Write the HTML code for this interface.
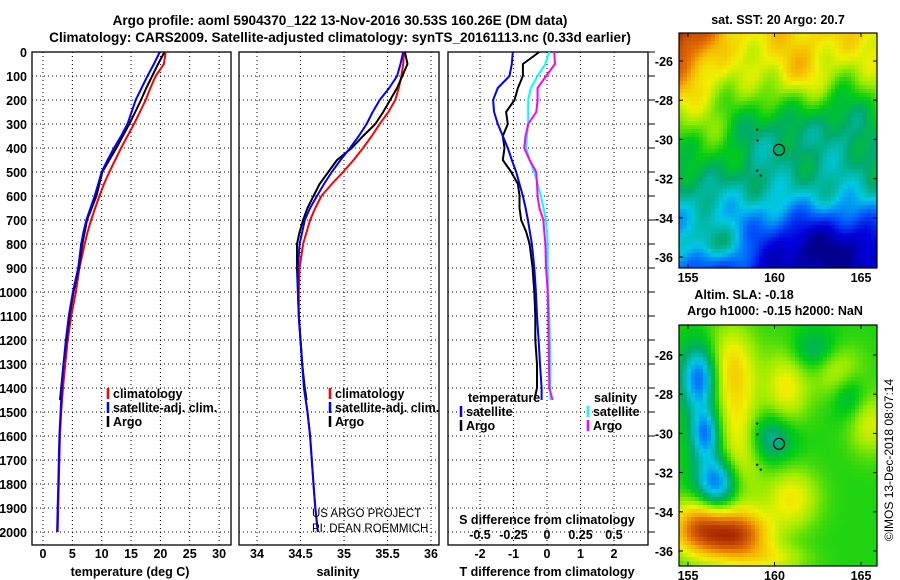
<!DOCTYPE html>
<html><head><meta charset="utf-8"><style>
body{margin:0;background:#fff;}
svg{display:block;font-family:"Liberation Sans",sans-serif;}
.b{font-weight:bold;font-size:12.5px;fill:#000;}
.t{font-weight:bold;font-size:13.6px;fill:#000;}
</style></head><body>
<svg id="fig" width="900" height="580" viewBox="0 0 900 580">
<text class="t" x="340" y="25" text-anchor="middle">Argo profile: aoml 5904370_122 13-Nov-2016 30.53S 160.26E (DM data)</text>
<text class="t" x="340" y="42" text-anchor="middle">Climatology: CARS2009. Satellite-adjusted climatology: synTS_20161113.nc (0.33d earlier)</text>
<g id="p1"></g>
<g id="p2"></g>
<g id="p3"></g>
<g id="m1"></g>
<g id="m2"></g>
<text x="893" y="460" font-size="12" transform="rotate(-90 893 460)" text-anchor="middle">©IMOS 13-Dec-2018 08:07:14</text>
</svg>
<script>
// ---- data ----
const depths=[0,50,100,150,200,250,300,350,400,450,500,550,600,650,700,750,800,900,1000,1100,1200,1300,1400,1450];
const depthsClim=[0,50,100,150,200,250,300,350,400,450,500,550,600,650,700,750,800,900,1000,1100,1200,1300,1400,1500,1600,1700,1800,1900,2000];
const tempArgo=[20.7,19.6,18.6,17.6,16.7,15.7,14.7,13.6,12.5,11.3,10.1,9.6,9.1,8.3,7.5,7.1,6.7,6.1,5.2,4.5,4.0,3.5,3.1,2.9];
const tempSat=[19.9,18.9,17.8,16.8,15.8,15.1,14.4,13.3,12.1,11.0,10.0,9.4,8.8,8.1,7.4,6.9,6.5,6.0,5.1,4.4,3.9,3.5,3.2,3.0,2.8,2.7,2.6,2.5,2.4];
const tempClim=[20.9,20.6,19.2,18.3,17.5,16.5,15.5,14.4,13.3,12.3,11.3,10.4,9.6,8.9,8.2,7.6,7.1,6.2,5.6,4.8,4.2,3.8,3.4,3.1,2.9,2.8,2.7,2.6,2.5];
const salArgo=[35.70,35.73,35.67,35.61,35.53,35.45,35.36,35.22,35.09,34.92,34.82,34.72,34.65,34.58,34.53,34.49,34.46,34.46,34.47,34.48,34.50,34.52,34.55,34.57];
const salSat=[35.68,35.65,35.61,35.52,35.41,35.33,35.26,35.17,35.07,34.96,34.86,34.77,34.69,34.61,34.55,34.52,34.49,34.47,34.47,34.48,34.50,34.52,34.54,34.58,34.61,34.63,34.65,34.67,34.70];
const salClim=[35.69,35.68,35.66,35.63,35.59,35.51,35.41,35.32,35.22,35.11,34.99,34.86,34.74,34.67,34.61,34.57,34.53,34.49,34.48,34.48,34.50,34.52,34.54,34.58,34.61,34.63,34.65,34.67,34.70];
const dT_Sat=[-1.02,-1.05,-1.12,-1.47,-1.61,-1.58,-1.47,-1.32,-1.17,-1.05,-0.92,-0.82,-0.72,-0.64,-0.57,-0.51,-0.45,-0.38,-0.33,-0.30,-0.25,-0.21,-0.16,-0.16];
const dT_Argo=[-0.23,-0.72,-0.72,-0.87,-0.97,-1.22,-1.17,-1.32,-1.27,-1.32,-1.07,-0.87,-0.82,-0.82,-0.77,-0.62,-0.52,-0.43,-0.38,-0.35,-0.35,-0.30,-0.30,-0.38];
const dS_Sat=[0.017,-0.012,-0.07,-0.12,-0.14,-0.14,-0.14,-0.15,-0.155,-0.13,-0.095,-0.07,-0.045,-0.025,-0.008,0.0,0.005,0.005,0.01,0.017,0.022,0.025,0.025,0.025];
const dS_Argo=[0.054,0.06,-0.007,-0.07,-0.07,-0.08,-0.14,-0.16,-0.17,-0.13,-0.08,-0.075,-0.07,-0.057,-0.027,-0.02,-0.012,-0.007,0.005,0.01,0.012,0.015,0.017,0.042];
const depthTicks=[0,100,200,300,400,500,600,700,800,900,1000,1100,1200,1300,1400,1500,1600,1700,1800,1900,2000];
const tempTicks=[0,5,10,15,20,25,30];
const salTicks=[34,34.5,35,35.5,36];
const dTTicks=[-2,-1,0,1,2];
const dSTicks=[-0.5,-0.25,0,0.25,0.5];
const latTicks=[-26,-28,-30,-32,-34,-36];
const lonTicks=[155,160,165];

const NS="http://www.w3.org/2000/svg";
function mk(tag,attrs,parent,txt){const e=document.createElementNS(NS,tag);for(const k in attrs)e.setAttribute(k,attrs[k]);if(txt!==undefined)e.textContent=txt;parent.appendChild(e);return e;}
const Y=d=>52+d*0.24;
const PB=545;
function panel(g,x0,x1,xs,ticks,labels,name){
  depthTicks.forEach(d=>{const l=mk('line',{x1:x0,x2:x1,y1:Y(d),y2:Y(d),stroke:'#000','stroke-width':1,'stroke-dasharray':'1,3'},g);
    });
  ticks.forEach(v=>{const l=mk('line',{x1:xs(v),x2:xs(v),y1:52,y2:PB,stroke:'#000','stroke-width':1,'stroke-dasharray':'1,3'},g);
    });
  const r=mk('rect',{x:x0,y:52,width:x1-x0,height:PB-52,fill:'none',stroke:'#000','stroke-width':1.3},g);
  
  if(labels){ticks.forEach((v,i)=>{const t=mk('text',{x:xs(v),y:558,'text-anchor':'middle',class:'b'},g,labels[i]);
    });}
}
function line(g,xs,vals,ds,color,name,w){
  const pts=vals.map((v,i)=>xs(v).toFixed(1)+','+Y(ds[i]).toFixed(1)).join(' ');
  const p=mk('polyline',{points:pts,fill:'none',stroke:color,'stroke-width':w||2,'stroke-linejoin':'round'},g);
  
}
function legend(g,x,y,color,label,name){
  const l=mk('line',{x1:x,x2:x,y1:y-10,y2:y+1,stroke:color,'stroke-width':2.5},g);
  
  const t=mk('text',{x:x+5,y:y,class:'b'},g,label);
  
}
const g1=document.getElementById('p1');
const xT=v=>43+v*5.87;
panel(g1,32,231,xT,tempTicks,tempTicks.map(String),'temperature-axis');
depthTicks.forEach(d=>{const t=mk('text',{x:27,y:Y(d)+5,'text-anchor':'end',class:'b'},g1,String(d));
  });
line(g1,xT,tempClim,depthsClim,'#ff0000','temp-climatology-line');
line(g1,xT,tempArgo,depths,'#000','temp-argo-line');
line(g1,xT,tempSat,depthsClim,'#0000ff','temp-satellite-line');
legend(g1,108,398,'#ff0000','climatology','legend-climatology');
legend(g1,108,412,'#0000ff','satellite-adj. clim.','legend-satellite');
legend(g1,108,426,'#000','Argo','legend-argo');
mk('text',{x:130,y:576,'text-anchor':'middle',class:'b'},g1,'temperature (deg C)');
const g2=document.getElementById('p2');
const xS=v=>257+(v-34)*87;
panel(g2,239,439,xS,salTicks,salTicks.map(String),'salinity-axis');
line(g2,xS,salClim,depthsClim,'#ff0000','sal-climatology-line');
line(g2,xS,salArgo,depths,'#000','sal-argo-line');
line(g2,xS,salSat,depthsClim,'#0000ff','sal-satellite-line');
legend(g2,330,398,'#ff0000','climatology','legend-climatology-2');
legend(g2,330,412,'#0000ff','satellite-adj. clim.','legend-satellite-2');
legend(g2,330,426,'#000','Argo','legend-argo-2');
mk('text',{x:338,y:576,'text-anchor':'middle',class:'b'},g2,'salinity');
mk('text',{x:312,y:517,'font-size':'11.5'},g2,'US ARGO PROJECT');
mk('text',{x:312,y:532,'font-size':'11.5'},g2,'PI: DEAN ROEMMICH');
const g3=document.getElementById('p3');
const xD=v=>547+v*33.5;
const xDS=v=>547+v*134;
panel(g3,448,648,xD,dTTicks,dTTicks.map(String),'t-difference-axis');
line(g3,xDS,dS_Sat,depths,'#00ffff','s-diff-satellite-line');
line(g3,xDS,dS_Argo,depths,'#ff00ff','s-diff-argo-line');
line(g3,xD,dT_Argo,depths,'#000','t-diff-argo-line');
line(g3,xD,dT_Sat,depths,'#0000ff','t-diff-satellite-line');
mk('text',{x:547,y:524,'text-anchor':'middle',class:'b'},g3,'S difference from climatology');
dSTicks.forEach(v=>{const t=mk('text',{x:xDS(v),y:539,'text-anchor':'middle',class:'b'},g3,String(v));
  });
mk('text',{x:547,y:576,'text-anchor':'middle',class:'b'},g3,'T difference from climatology');
mk('text',{x:468,y:402,class:'b'},g3,'temperature');
legend(g3,461,416,'#0000ff','satellite','legend-t-satellite');
legend(g3,461,430,'#000','Argo','legend-t-argo');
mk('text',{x:594,y:402,class:'b'},g3,'salinity');
legend(g3,588,416,'#00ffff','satellite','legend-s-satellite');
legend(g3,588,430,'#ff00ff','Argo','legend-s-argo');
depthTicks.forEach(d=>{mk('line',{x1:648,x2:655,y1:Y(d),y2:Y(d),stroke:'#000'},g3);});

// ---- maps ----
const stops=[[0,[0,0,140]],[0.12,[0,0,220]],[0.24,[0,100,255]],[0.33,[0,200,230]],[0.42,[0,170,110]],[0.5,[0,205,20]],[0.6,[150,235,0]],[0.68,[240,240,0]],[0.78,[245,180,0]],[0.87,[225,110,0]],[1,[170,40,0]]];
function cmap(v){v=Math.max(0,Math.min(1,v));for(let i=1;i<stops.length;i++){if(v<=stops[i][0]){const a=stops[i-1],b=stops[i],f=(v-a[0])/(b[0]-a[0]);return 'rgb('+a[1].map((c,k)=>Math.round(c+(b[1][k]-c)*f)).join(',')+')';}}return 'rgb(170,40,0)';}
const G=(lo,la,x,y,sx,sy)=>Math.exp(-((lo-x)*(lo-x)/(2*sx*sx)+(la-y)*(la-y)/(2*sy*sy)));
function sst(lo,la){const t=(la+36.5)/11.5;let v=0.22+0.48*t;
 v+=0.25*Math.max(0,(157.5-lo)/2.5)*Math.max(0,t-0.55)*2.2;
 v-=0.25*G(lo,la,163,-35.6,3,1.3);
 v+=0.14*G(lo,la,156.5,-35.3,1.6,0.7);
 v-=0.1*G(lo,la,160,-29.5,1.5,1.2)-0.06*G(lo,la,156,-30.5,1,1.2);
 v+=0.1*G(lo,la,161.5,-26.5,1.2,1)-0.12*G(lo,la,164,-29,1.3,1.6);
 v+=0.03*Math.sin(lo*1.7+la*1.3)+0.02*Math.sin(lo*2.9-la*2.1);
 return v;}
function sla(lo,la){let v=0.52;
 v+=0.2*G(lo,la,157.5,-26.7,1.0,1.6)+0.17*G(lo,la,160.7,-27.6,0.9,1.5)+0.15*G(lo,la,163.7,-26.8,1.0,1.0);
 v+=0.18*G(lo,la,158,-30.8,0.9,2.0)+0.17*G(lo,la,161,-33.3,1.1,1.1)+0.14*G(lo,la,165.5,-29.5,0.9,1.1);
 v-=0.3*G(lo,la,155.7,-27.2,0.75,1.2)+0.26*G(lo,la,156,-30,0.6,0.9)+0.3*G(lo,la,156.7,-32.5,0.9,1.0);
 v-=0.17*G(lo,la,159.8,-30.2,1.0,0.9)+0.12*G(lo,la,162.3,-25.8,1.1,0.8)+0.12*G(lo,la,164.3,-28,0.7,0.9);
 v+=0.42*G(lo,la,157.7,-35.2,1.4,0.9)+0.3*G(lo,la,155.5,-34.8,1.1,1.0)+0.12*G(lo,la,160,-36.4,1.4,0.5);
 return v;}
function map(id,top,bottom,fn,pix){
 const g=document.getElementById(id);const x0=679,x1=877;
 const lonOf=x=>155+(x-688)/17.3;
 const latScale=19.6, y26=top+(id==='m1'?28:30);
 const latOf=y=>-26-(y-y26)/latScale;
 let html='';
 for(let y=top;y<bottom;y+=pix){for(let x=x0;x<x1;x+=pix){const lo=lonOf(x+pix/2),la=latOf(y+pix/2);
   html+='<rect x="'+x+'" y="'+y+'" width="'+(Math.min(pix,x1-x)+0.3)+'" height="'+(Math.min(pix,bottom-y)+0.3)+'" fill="'+cmap(fn(lo,la))+'"/>';}}
 const cells=document.createElementNS(NS,'g');cells.innerHTML=html;g.appendChild(cells);
 
 
 const fr=mk('rect',{x:x0,y:top,width:x1-x0,height:bottom-top,fill:'none',stroke:'#000','stroke-width':1.2},g);
 
 latTicks.forEach(la=>{const y=y26+(-26-la)*latScale;
   mk('line',{x1:x0,x2:x0+4,y1:y,y2:y,stroke:'#000'},g);mk('line',{x1:x1-4,x2:x1,y1:y,y2:y,stroke:'#000'},g);
   const t=mk('text',{x:673,y:y+5,'text-anchor':'end',class:'b'},g,String(la));
   });
 lonTicks.forEach(lo=>{const x=688+(lo-155)*17.3;
   mk('line',{x1:x,x2:x,y1:bottom-4,y2:bottom,stroke:'#000'},g);mk('line',{x1:x,x2:x,y1:top,y2:top+4,stroke:'#000'},g);
   const t=mk('text',{x:x,y:bottom+14,'text-anchor':'middle',class:'b'},g,String(lo));
   });
 const P=(lo,la)=>[688+(lo-155)*17.3,y26+(-26-la)*latScale];
 let c=P(160.26,-30.53);
 const ci=mk('circle',{cx:c[0],cy:c[1],r:5.5,fill:'none',stroke:'#000','stroke-width':1.2},g);
 
 [[159,-29.5],[159.02,-30.05],[159,-31.6],[159.2,-31.85]].forEach(p=>{const q=P(p[0],p[1]);mk('circle',{cx:q[0],cy:q[1],r:1.1,fill:'#000'},g);});
}
map('m1',33,268,sst,4);
map('m2',325,566,sla,4);
const m1=document.getElementById('m1'),m2=document.getElementById('m2');
mk('text',{x:778,y:24,'text-anchor':'middle',class:'b'},m1,'sat. SST: 20 Argo: 20.7');
mk('text',{x:744,y:299,'text-anchor':'middle',class:'b'},m2,'Altim. SLA: -0.18');
mk('text',{x:775,y:315,'text-anchor':'middle',class:'b'},m2,'Argo h1000: -0.15 h2000: NaN');
</script>
</body></html>
